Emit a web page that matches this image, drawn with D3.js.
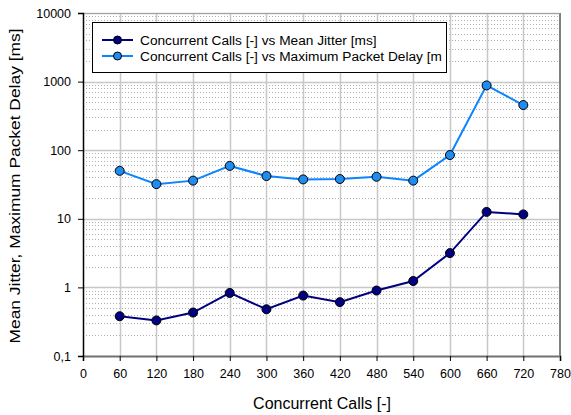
<!DOCTYPE html>
<html>
<head>
<meta charset="utf-8">
<title>Jitter and delay</title>
<script src="https://d3js.org/d3.v7.min.js"></script>
<style>
  body { margin: 0; background: #fff; }
  text { font-family: Arial, "Liberation Sans", sans-serif; fill: #000; }
</style>
</head>
<body>
<script>
// data
var calls = [60, 120, 180, 240, 300, 360, 420, 480, 540, 600, 660, 720]
var meanJitter = [0.38, 0.33, 0.43, 0.83, 0.48, 0.76, 0.61, 0.90, 1.24, 3.16, 12.6, 11.6]
var maxDelay = [50, 32, 36, 59, 42, 37.5, 38, 41, 36, 85, 880, 455]
var xTicks = d3.range(0, 781, 60)
var yTicks = [0.1, 1, 10, 100, 1000, 10000]
var yTickLabels = ["0,1", "1", "10", "100", "1000", "10000"]
var seriesNames = ["Concurrent Calls [-] vs Mean Jitter [ms]",
                   "Concurrent Calls [-] vs Maximum Packet Delay [ms]"]

var width = 571, height = 415
var pLeft = 83, pRight = 560, pTop = 13, pBottom = 356

var svg = d3.select("body").append("svg")
    .attr("width", width)
    .attr("height", height)

var x = d3.scaleLinear().domain([0, 780]).range([pLeft, pRight])
var y = d3.scaleLog().domain([0.1, 10000]).range([pBottom, pTop])

// minor gridlines (dotted)
var minors = []
yTicks.slice(0, -1).forEach(function(d) {
  for (var k = 2; k < 10; k++) minors.push(d * k)
})
svg.append("g").selectAll("line").data(minors).enter().append("line")
    .attr("x1", pLeft).attr("x2", pRight)
    .attr("y1", function(d) { return Math.round(y(d)) + 0.5 })
    .attr("y2", function(d) { return Math.round(y(d)) + 0.5 })
    .attr("stroke", "#b0b0b0")
    .attr("stroke-dasharray", "1,2")

// major gridlines
svg.append("g").selectAll("line").data(xTicks.slice(1, -1)).enter().append("line")
    .attr("x1", function(d) { return Math.round(x(d)) + 0.5 })
    .attr("x2", function(d) { return Math.round(x(d)) + 0.5 })
    .attr("y1", pTop).attr("y2", pBottom)
    .attr("stroke", "#c8c8c8").attr("stroke-width", 1.5)
svg.append("g").selectAll("line").data(yTicks.slice(1)).enter().append("line")
    .attr("x1", pLeft).attr("x2", pRight)
    .attr("y1", function(d) { return Math.round(y(d)) + 0.5 })
    .attr("y2", function(d) { return Math.round(y(d)) + 0.5 })
    .attr("stroke", "#c8c8c8").attr("stroke-width", 1.5)

// plot border: right darker gray, top light
svg.append("line").attr("x1", pRight).attr("x2", pRight).attr("y1", pTop).attr("y2", pBottom + 1)
    .attr("stroke", "#808080").attr("stroke-width", 2)
svg.append("line").attr("x1", pLeft).attr("x2", pRight).attr("y1", pTop + 0.5).attr("y2", pTop + 0.5)
    .attr("stroke", "#a0a0a0").attr("stroke-width", 1)

// axes
var xAxis = d3.axisBottom(x).tickValues(xTicks).tickSize(5).tickPadding(8)
var gx = svg.append("g").attr("transform", "translate(0," + pBottom + ")").call(xAxis)
gx.select(".domain").attr("stroke", "#707070").attr("stroke-width", 2)
gx.selectAll(".tick line").attr("stroke", "#000")
gx.selectAll("text").attr("font-size", 12.5).attr("font-family", "Arial, 'Liberation Sans', sans-serif")

var yAxis = d3.axisLeft(y).tickValues(yTicks)
    .tickFormat(function(d, i) { return yTickLabels[i] })
    .tickSize(5).tickPadding(7)
var gy = svg.append("g").attr("transform", "translate(" + pLeft + ",0)").call(yAxis)
gy.select(".domain").attr("stroke", "#000").attr("stroke-width", 1.5)
gy.selectAll(".tick line").attr("stroke", "#000")
gy.selectAll("text").attr("font-size", 12.5).attr("font-family", "Arial, 'Liberation Sans', sans-serif")

// axis titles
svg.append("text")
    .attr("x", 322).attr("y", 409)
    .attr("text-anchor", "middle").attr("font-size", 16)
    .text("Concurrent Calls [-]")
svg.append("text")
    .attr("transform", "translate(20,186) rotate(-90)")
    .attr("text-anchor", "middle").attr("font-size", 15)
    .attr("textLength", 315).attr("lengthAdjust", "spacingAndGlyphs")
    .text("Mean Jitter, Maximum Packet Delay [ms]")

// series
var series = [
  { values: meanJitter, line: "#000080", fill: "#000080" },
  { values: maxDelay, line: "#0a84ff", fill: "#1e8cf0" }
]
var line = d3.line()
    .x(function(d, i) { return x(calls[i]) })
    .y(function(d) { return y(d) })

series.forEach(function(s) {
  svg.append("path").datum(s.values)
      .attr("d", line)
      .attr("fill", "none")
      .attr("stroke", s.line)
      .attr("stroke-width", 2)
  svg.append("g").selectAll("circle").data(s.values).enter().append("circle")
      .attr("cx", function(d, i) { return x(calls[i]) })
      .attr("cy", function(d) { return y(d) })
      .attr("r", 4.5)
      .attr("fill", s.fill)
      .attr("stroke", "#000")
      .attr("stroke-width", 1)
})

// legend (text clipped by box)
var lx = 92.5, ly = 22.5, lw = 354, lh = 50
svg.append("clipPath").attr("id", "legclip").append("rect")
    .attr("x", lx).attr("y", ly).attr("width", lw - 5).attr("height", lh)
var leg = svg.append("g")
leg.append("rect").attr("x", lx).attr("y", ly).attr("width", lw).attr("height", lh)
    .attr("fill", "#fff").attr("stroke", "#000").attr("stroke-width", 1)
var lg = leg.append("g").attr("clip-path", "url(#legclip)")
series.forEach(function(s, i) {
  var yy = 40 + i * 16
  lg.append("line").attr("x1", 102).attr("x2", 133).attr("y1", yy).attr("y2", yy)
      .attr("stroke", s.line).attr("stroke-width", 2)
  lg.append("circle").attr("cx", 117.5).attr("cy", yy).attr("r", 4)
      .attr("fill", s.fill).attr("stroke", "#000").attr("stroke-width", 1)
  lg.append("text").attr("x", 140).attr("y", yy + 5)
      .attr("font-size", 13.7)
      .text(seriesNames[i])
})
</script>
</body>
</html>
